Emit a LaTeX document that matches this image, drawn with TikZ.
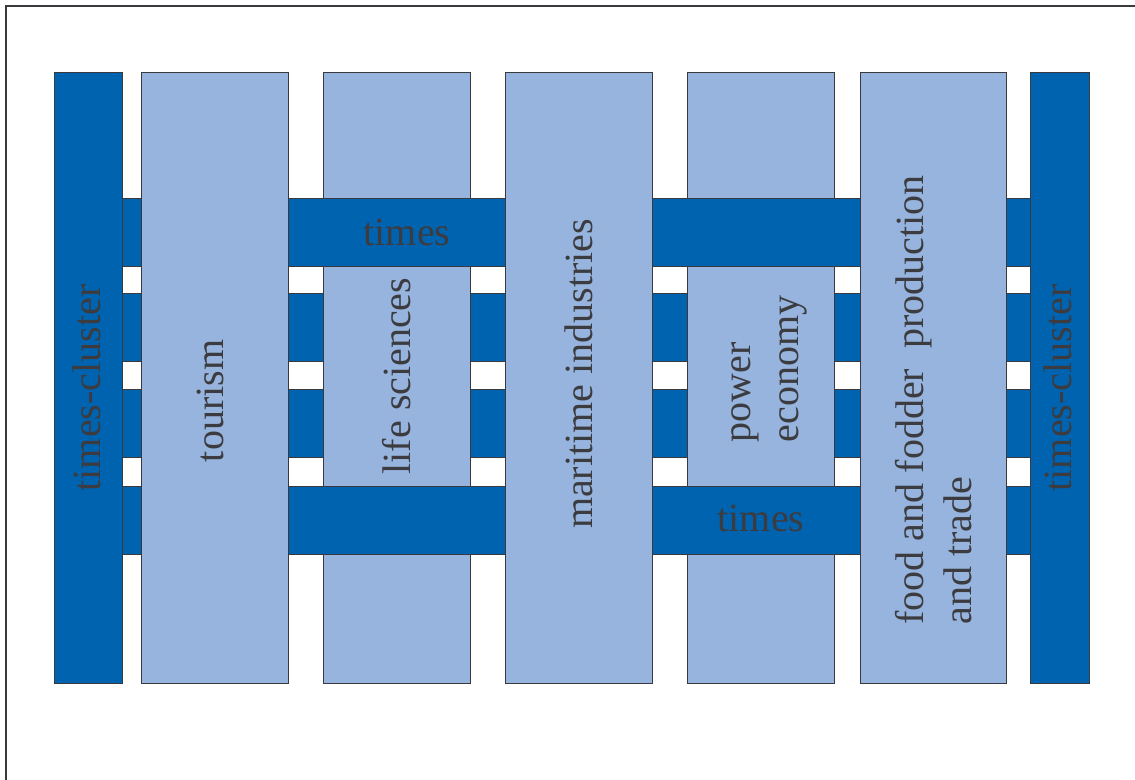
\documentclass[tikz,border=0pt]{standalone}
\usepackage{fontspec}
\setmainfont{Liberation Serif}
\definecolor{clusterblue}{RGB}{0,99,175}
\definecolor{branchblue}{RGB}{150,180,222}
\definecolor{edgegray}{RGB}{58,58,62}
\definecolor{textgray}{RGB}{60,60,64}

\begin{document}
\begin{tikzpicture}[x=0.5pt,y=-0.5pt,
    dark/.style={fill=clusterblue,draw=edgegray,line width=0.5pt},
    light/.style={fill=branchblue,draw=edgegray,line width=0.5pt},
    lbl/.style={text=textgray,font=\fontsize{20}{24}\selectfont,inner sep=0pt,align=left}]
    \useasboundingbox (0,0) rectangle (1135,780);
    \draw[edgegray,line width=0.75pt] (6,6) rectangle (1145,790);

    % times bands (behind everything)
    \draw[dark] (122,199) rectangle (1030,267);
    \draw[dark] (122,294) rectangle (1030,362);
    \draw[dark] (122,390) rectangle (1030,458);
    \draw[dark] (122,486) rectangle (1030,554);

    % branches under the times bands
    \draw[light] (323,73) rectangle (470,683);
    \draw[light] (687,73) rectangle (834,683);

    % times bands over life sciences and power economy
    \draw[dark] (288,199) rectangle (505,267);
    \draw[dark] (652,199) rectangle (860,267);
    \draw[dark] (288,486) rectangle (505,554);
    \draw[dark] (652,486) rectangle (860,554);

    % branches over the times bands
    \draw[light] (141,73) rectangle (288,683);
    \draw[light] (505,73) rectangle (652,683);
    \draw[light] (860,73) rectangle (1006,683);

    % cluster columns
    \draw[dark] (54,73) rectangle (122,683);
    \draw[dark] (1030,73) rectangle (1089,683);

    % labels
    \node[lbl,rotate=90] (tcl) at (87,388) {times-cluster};
    \node[lbl,rotate=90] (tcr) at (1058,388) {times-cluster};
    \node[lbl,rotate=90] (tour) at (210,401) {tourism};
    \node[lbl,rotate=90] (life) at (397,376) {life sciences};
    \node[lbl,rotate=90] (mari) at (579,374) {maritime industries};
    \node[lbl,rotate=90] (power) at (769,369) {power\\economy};
    \node[lbl,rotate=90] (food) at (934,400) {food and fodder\ \ production\\and trade};
    \node[lbl] (timesA) at (407,232) {times};
    \node[lbl] (timesB) at (761,518) {times};
\end{tikzpicture}
\end{document}
